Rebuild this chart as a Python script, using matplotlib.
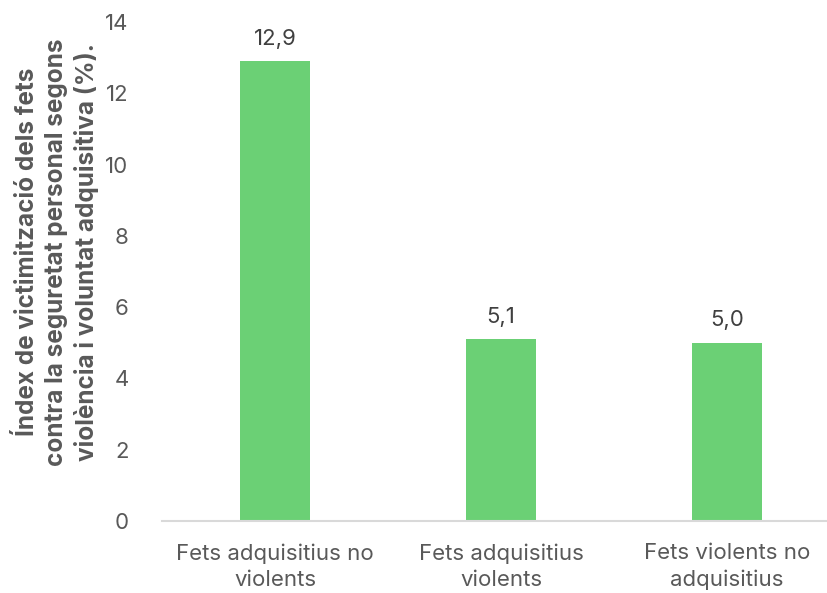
import matplotlib
matplotlib.use("Agg")
import matplotlib.pyplot as plt

categories = ["Fets adquisitius no\nviolents", "Fets adquisitius\nviolents", "Fets violents no\nadquisitius"]
values = [12.9, 5.1, 5.0]
value_labels = ["12,9", "5,1", "5,0"]
yticks = [0, 2, 4, 6, 8, 10, 12, 14]
ylabel = "Índex de victimització dels fets\ncontra la seguretat personal segons\nviolència i voluntat adquisitiva (%)."

plt.rcParams['font.family'] = ['Inter', 'DejaVu Sans']

W, H = 828, 593
fig = plt.figure(figsize=(W/100, H/100), dpi=100)
left, right, bottom, top = 162, 828, 521, 22
ax = fig.add_axes([left/W, 1 - bottom/H, (right-left)/W, (bottom-top)/H])

x = list(range(len(categories)))
ax.bar(x, values, width=0.314, color="#6BD075", zorder=2)
ax.set_xlim(-0.5, -0.5 + (right-left)/226)
ax.set_ylim(0, 14)
ax.set_yticks(yticks)
ax.set_yticklabels([str(t) for t in yticks])
ax.set_xticks(x)
ax.set_xticklabels(categories, linespacing=1.4)

for s in ["top", "right", "left"]:
    ax.spines[s].set_visible(False)
ax.spines["bottom"].set_color("#D9D9D9")
ax.spines["bottom"].set_linewidth(1.5)
ax.tick_params(axis="y", length=0, pad=24, labelsize=16, labelcolor="#595959")
ax.tick_params(axis="x", length=0, pad=16, labelsize=16, labelcolor="#595959")

for xi, v, lab in zip(x, values, value_labels):
    ax.annotate(lab, (xi, v), xytext=(0, 9), textcoords="offset points",
                ha="center", va="bottom", fontsize=16, color="#404040")

fig.text(57/W, 1 - 252/H, ylabel, rotation=90, ha="center", va="center",
         fontsize=17.5, fontweight="bold", color="#595959", linespacing=1.3,
         multialignment="center")

fig.savefig("out.png", dpi=100)
